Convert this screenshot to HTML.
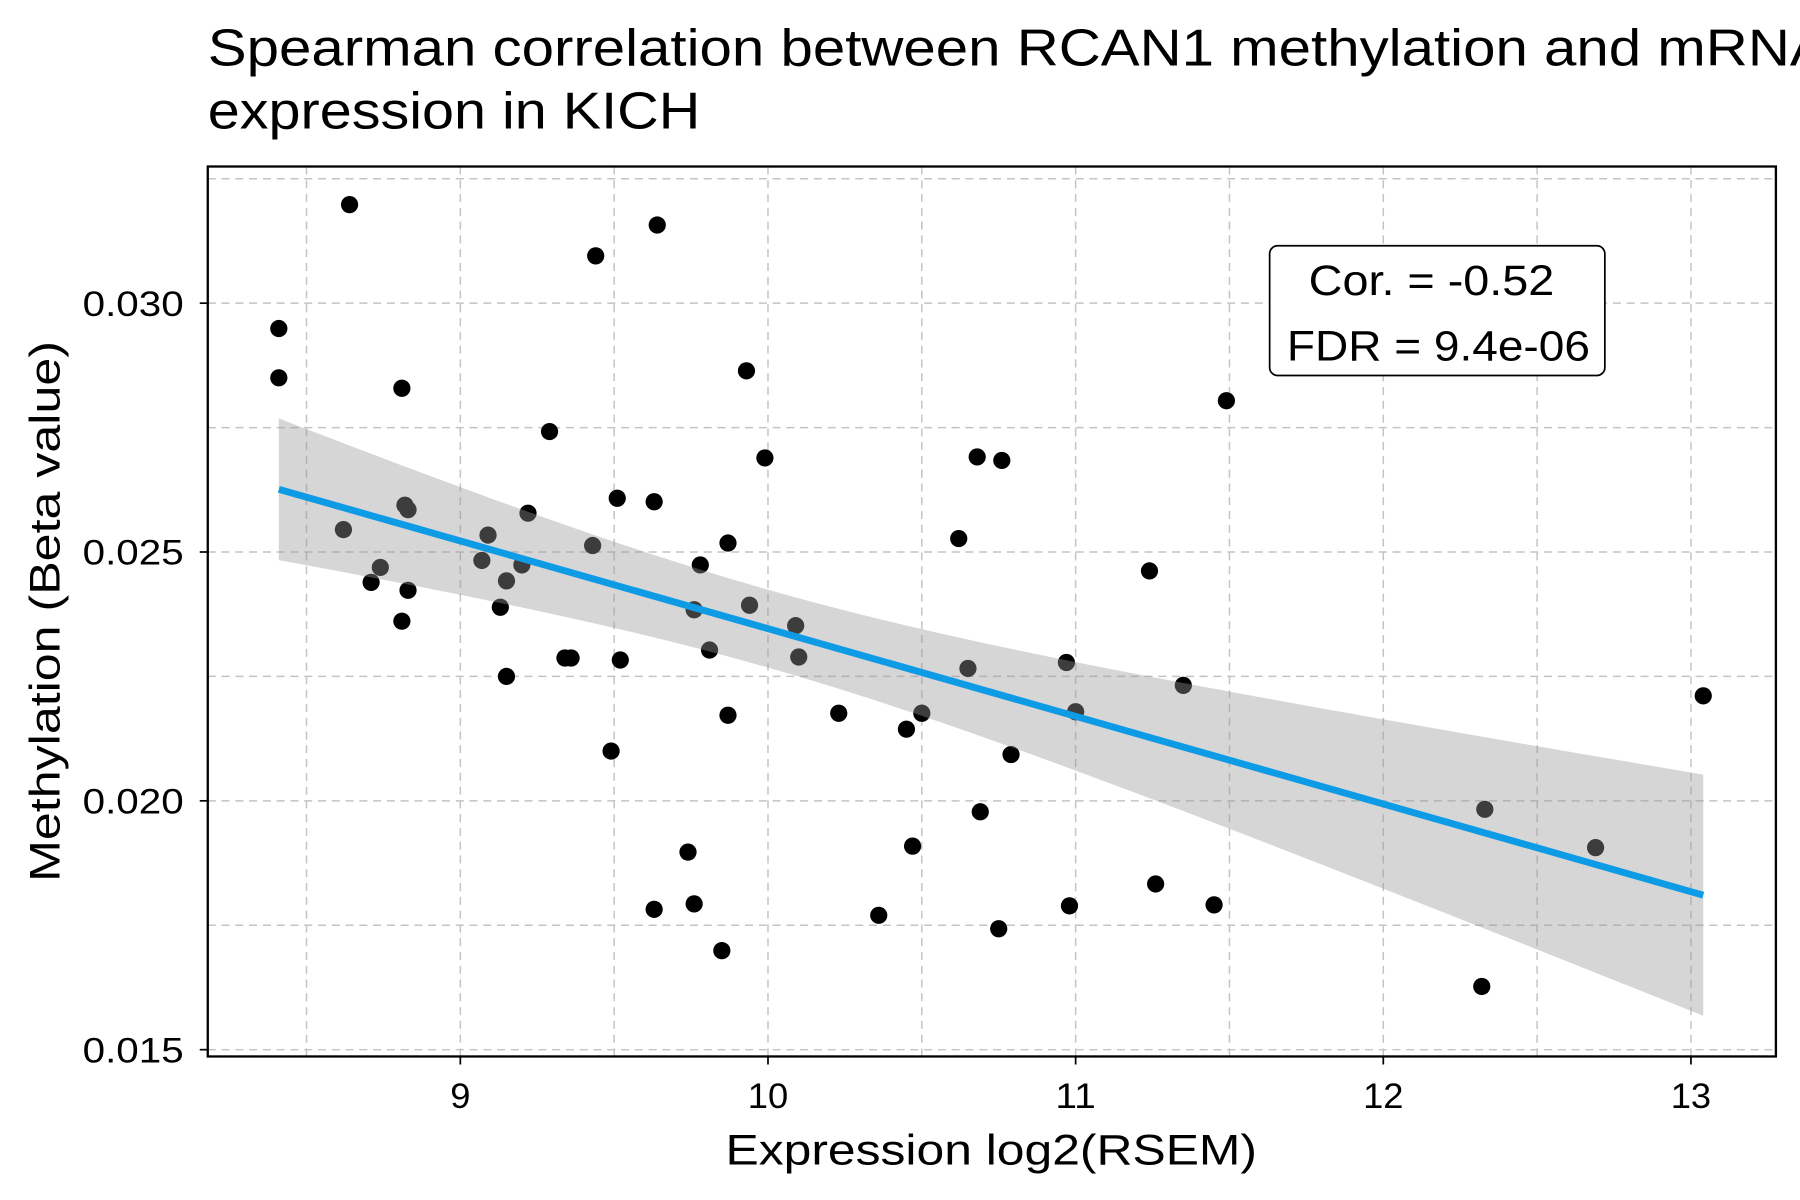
<!DOCTYPE html>
<html><head><meta charset="utf-8"><style>
html,body{margin:0;padding:0;background:#fff;}
svg{display:block;font-family:"Liberation Sans",Arial,sans-serif;}
</style></head><body>
<svg id="chart" width="1800" height="1200" viewBox="0 0 1568 1045" preserveAspectRatio="none" xmlns="http://www.w3.org/2000/svg">
<text x="181" y="57" font-size="45" fill="#000" textLength="1412" lengthAdjust="spacingAndGlyphs">Spearman correlation between RCAN1 methylation and mRNA</text>
<text x="181" y="112" font-size="45" fill="#000" textLength="429" lengthAdjust="spacingAndGlyphs">expression in KICH</text>
<g id="grid"></g>
<g id="points"></g>
<g id="fit"></g>
<rect x="181" y="145" width="1366" height="775" fill="none" stroke="#000" stroke-width="2"/>
<g id="axes"></g>
<text x="632" y="1014" font-size="37" textLength="463" lengthAdjust="spacingAndGlyphs">Expression log2(RSEM)</text>
<text transform="translate(52,768) rotate(-90)" font-size="37" textLength="471" lengthAdjust="spacingAndGlyphs">Methylation (Beta value)</text>
<g>
<rect x="1106" y="214" width="292" height="113" rx="7" fill="#fff" stroke="#000" stroke-width="1.5"/>
<text x="1140" y="257" font-size="37" textLength="214" lengthAdjust="spacingAndGlyphs">Cor. = -0.52</text>
<text x="1121" y="314" font-size="37" textLength="264" lengthAdjust="spacingAndGlyphs">FDR = 9.4e-06</text>
</g>
</svg>
<script>
const xVals=[8.41,8.41,8.64,8.81,8.62,8.71,8.74,8.82,8.83,8.83,8.81,9.07,9.09,9.13,9.15,9.15,9.20,9.22,9.29,9.34,9.36,9.43,9.44,9.49,9.51,9.52,9.63,9.64,9.63,9.74,9.76,9.76,9.78,9.81,9.85,9.87,9.87,9.93,9.94,9.99,10.09,10.10,10.23,10.36,10.45,10.47,10.50,10.62,10.65,10.68,10.69,10.75,10.76,10.79,10.97,10.98,11.00,11.24,11.26,11.35,11.45,11.49,12.33,12.32,12.69,13.04];
const yVals=[0.02949,0.02850,0.03198,0.02829,0.02545,0.02439,0.02469,0.02594,0.02585,0.02423,0.02361,0.02483,0.02534,0.02389,0.02442,0.02250,0.02474,0.02578,0.02742,0.02287,0.02287,0.02513,0.03095,0.02100,0.02608,0.02283,0.02601,0.03157,0.01782,0.01897,0.02384,0.01793,0.02474,0.02303,0.01699,0.02172,0.02518,0.02864,0.02393,0.02689,0.02352,0.02289,0.02176,0.01770,0.02144,0.01909,0.02176,0.02527,0.02266,0.02691,0.01978,0.01743,0.02684,0.02093,0.02278,0.01789,0.02179,0.02462,0.01833,0.02232,0.01791,0.02804,0.01983,0.01627,0.01906,0.02211];
const xTicks=[9,10,11,12,13];
const xTickLabels=["9","10","11","12","13"];
const yTicks=[0.015,0.020,0.025,0.030];
const yTickLabels=["0.015","0.020","0.025","0.030"];
const xGrid=[8.5,9,9.5,10,10.5,11,11.5,12,12.5,13];
const yGrid=[0.015,0.0175,0.020,0.0225,0.025,0.0275,0.030,0.0325];

const NS="http://www.w3.org/2000/svg";
const X=v=>401+(v-9)*268;
const Y=v=>264-(v-0.030)/0.005*216.7;
function mk(tag,attrs,parent){const e=document.createElementNS(NS,tag);for(const k in attrs)e.setAttribute(k,attrs[k]);parent.appendChild(e);return e;}
const grid=document.getElementById('grid'),pts=document.getElementById('points'),fit=document.getElementById('fit'),axes=document.getElementById('axes');
xGrid.forEach(v=>{const l=mk('line',{x1:X(v),x2:X(v),y1:145,y2:920,stroke:'#c4c4c4','stroke-width':1.3,'stroke-dasharray':'7 5'},grid);

});
yGrid.forEach(v=>{const l=mk('line',{x1:181,x2:1547,y1:Y(v),y2:Y(v),stroke:'#c4c4c4','stroke-width':1.3,'stroke-dasharray':'7 5'},grid);

});
xVals.forEach((x,i)=>{const c=mk('circle',{cx:X(x),cy:Y(yVals[i]),r:7.5,fill:'#000'},pts);

});
const n=xVals.length,mx=xVals.reduce((a,b)=>a+b)/n,my=yVals.reduce((a,b)=>a+b)/n;
let sxx=0,sxy=0;xVals.forEach((x,i)=>{sxx+=(x-mx)**2;sxy+=(x-mx)*(yVals[i]-my);});
const b=sxy/sxx,a=my-b*mx;let sse=0;xVals.forEach((x,i)=>{sse+=(yVals[i]-a-b*x)**2;});
const s=Math.sqrt(sse/(n-2)),t=1.998;
const x0=Math.min(...xVals),x1=Math.max(...xVals);
let up=[],lo=[];
for(let k=0;k<=80;k++){const x=x0+(x1-x0)*k/80,yh=a+b*x,se=s*Math.sqrt(1/n+(x-mx)**2/sxx);
up.push(X(x)+','+Y(yh+t*se));lo.push(X(x)+','+Y(yh-t*se));}
const band=mk('polygon',{points:up.concat(lo.reverse()).join(' '),fill:'#999','fill-opacity':0.4},fit);


const ln=mk('line',{x1:X(x0),y1:Y(a+b*x0),x2:X(x1),y2:Y(a+b*x1),stroke:'#0e9be6','stroke-width':6},fit);


xTicks.forEach((v,i)=>{mk('line',{x1:X(v),x2:X(v),y1:920,y2:927,stroke:'#000','stroke-width':1.5},axes);
const w=xTickLabels[i].length*17.6;
const tx=mk('text',{x:X(v)-w/2,y:965,'font-size':31,textLength:w,lengthAdjust:'spacingAndGlyphs'},axes);tx.textContent=xTickLabels[i];

});
yTicks.forEach((v,i)=>{mk('line',{x1:174,x2:181,y1:Y(v),y2:Y(v),stroke:'#000','stroke-width':1.5},axes);
const tx=mk('text',{x:72,y:Y(v)+11,'font-size':31,textLength:88,lengthAdjust:'spacingAndGlyphs'},axes);tx.textContent=yTickLabels[i];

});
</script>
</body></html>
